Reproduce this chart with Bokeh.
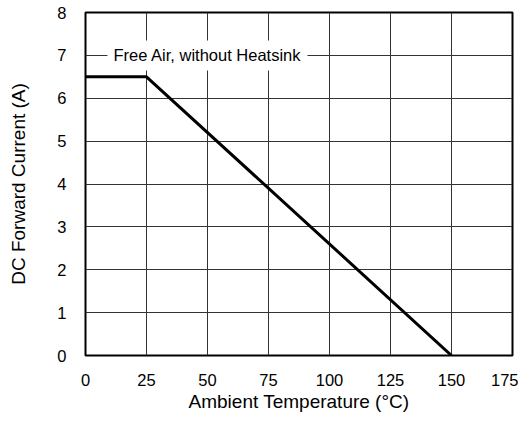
from bokeh.plotting import figure
from bokeh.models import Range1d, Label, FixedTicker
from bokeh.embed import file_html
from bokeh.resources import INLINE

temp = [0, 25, 150]
current = [6.5, 6.5, 0]
x_ticks = [0, 25, 50, 75, 100, 125, 150, 175]
y_ticks = [0, 1, 2, 3, 4, 5, 6, 7, 8]
note = "Free Air, without Heatsink"

p = figure(width=518, height=414, output_backend="svg", toolbar_location=None,
           x_range=Range1d(0, 175), y_range=Range1d(0, 8),
           min_border_left=85, min_border_top=12, min_border_right=6, min_border_bottom=56)
p.outline_line_color = "black"
p.outline_line_width = 2
p.background_fill_color = "white"

for ax in (p.xaxis[0], p.yaxis[0]):
    ax.axis_line_color = None
    ax.major_tick_line_color = None
    ax.minor_tick_line_color = None
    ax.major_label_text_font = "Liberation Sans"
    ax.major_label_text_font_size = "16.5px"
    ax.major_label_text_color = "black"
    ax.axis_label_text_font = "Liberation Sans"
    ax.axis_label_text_font_size = "19px"
    ax.axis_label_text_font_style = "normal"
    ax.axis_label_text_color = "black"

p.xaxis.ticker = FixedTicker(ticks=x_ticks)
p.yaxis.ticker = FixedTicker(ticks=y_ticks)
p.xaxis.axis_label = "Ambient Temperature (°C)"
p.yaxis.axis_label = "DC Forward Current (A)"
p.xaxis.major_label_standoff = 12
p.yaxis.major_label_standoff = 13
p.xaxis.axis_label_standoff = 2
p.yaxis.axis_label_standoff = 25

p.xgrid.ticker = FixedTicker(ticks=x_ticks)
p.ygrid.ticker = FixedTicker(ticks=y_ticks)
for g in (p.xgrid[0], p.ygrid[0]):
    g.grid_line_color = "#333333"
    g.grid_line_width = 1

p.line(temp, current, line_color="black", line_width=3)

lab = Label(x=9.0, y=7, text=note, text_baseline="middle", text_align="left",
            text_font="Liberation Sans", text_font_size="16.5px", text_color="black",
            background_fill_color="white", padding=6)
p.add_layout(lab)

open("out.html", "w").write(file_html(p, INLINE))
